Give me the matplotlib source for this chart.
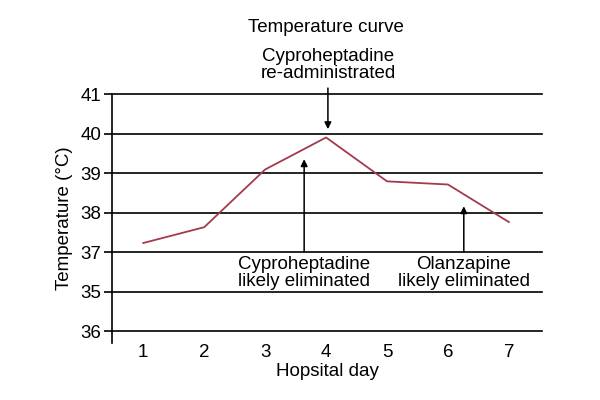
import matplotlib
matplotlib.use("Agg")
import matplotlib.pyplot as plt

plt.rcParams['font.family'] = ['Liberation Sans', 'DejaVu Sans']

# data
days = [1, 2, 3, 4, 5, 6, 7]
temps = [37.23, 37.63, 39.09, 39.90, 38.79, 38.71, 37.76]
# the source axis lists its labels in this (odd) order from bottom to top
ytick_labels = ["36", "35", "37", "38", "39", "40", "41"]
y_base = 35  # 37 sits at the third row

line_color = "#a33a4e"
fs = 13.5

fig = plt.figure(figsize=(6, 4), dpi=100)
ax = fig.add_axes([0.187, 0.1425, 0.716, 0.6225])

ypos = [t - y_base for t in temps]
ax.plot(days, ypos, color=line_color, lw=1.3)

for i in range(len(ytick_labels)):
	ax.axhline(i, color="black", lw=1.2, zorder=0, clip_on=False)

ax.set_xlim(0.49, 7.54)
ax.set_ylim(-0.3, 6)
ax.set_yticks(range(len(ytick_labels)))
ax.set_yticklabels(ytick_labels, fontsize=fs)
ax.set_xticks(days)
ax.set_xticklabels([str(d) for d in days], fontsize=fs)
ax.tick_params(axis="x", length=0, pad=1)
ax.tick_params(axis="y", length=6, width=1.2, pad=2)
for s in ["top", "right", "bottom"]:
	ax.spines[s].set_visible(False)
ax.spines["left"].set_linewidth(1.2)

ax.set_xlabel("Hopsital day", fontsize=fs, labelpad=1)
ax.set_ylabel("Temperature (°C)", fontsize=fs, labelpad=5)

arrow = dict(arrowstyle="-|>", color="black", lw=1.1, mutation_scale=10, shrinkA=0, shrinkB=0)

# re-administration arrow from above
ax.annotate("", xy=(4.03, 5.11), xytext=(4.03, 6.15), arrowprops=arrow, annotation_clip=False)
ax.text(4.03, 6.3, "Cyproheptadine\nre-administrated", ha="center", va="bottom",
	fontsize=fs, linespacing=1.0, clip_on=False)
fig.text(0.543, 0.93, "Temperature curve", ha="center", va="center", fontsize=fs)

# elimination arrows from below
ax.annotate("", xy=(3.64, 4.35), xytext=(3.64, 2.0), arrowprops=arrow)
ax.text(3.64, 1.9, "Cyproheptadine\nlikely eliminated", ha="center", va="top",
	fontsize=fs, linespacing=1.0)
ax.annotate("", xy=(6.26, 3.16), xytext=(6.26, 2.0), arrowprops=arrow)
ax.text(6.26, 1.9, "Olanzapine\nlikely eliminated", ha="center", va="top",
	fontsize=fs, linespacing=1.0)

fig.savefig("out.png", dpi=100, facecolor="white")
